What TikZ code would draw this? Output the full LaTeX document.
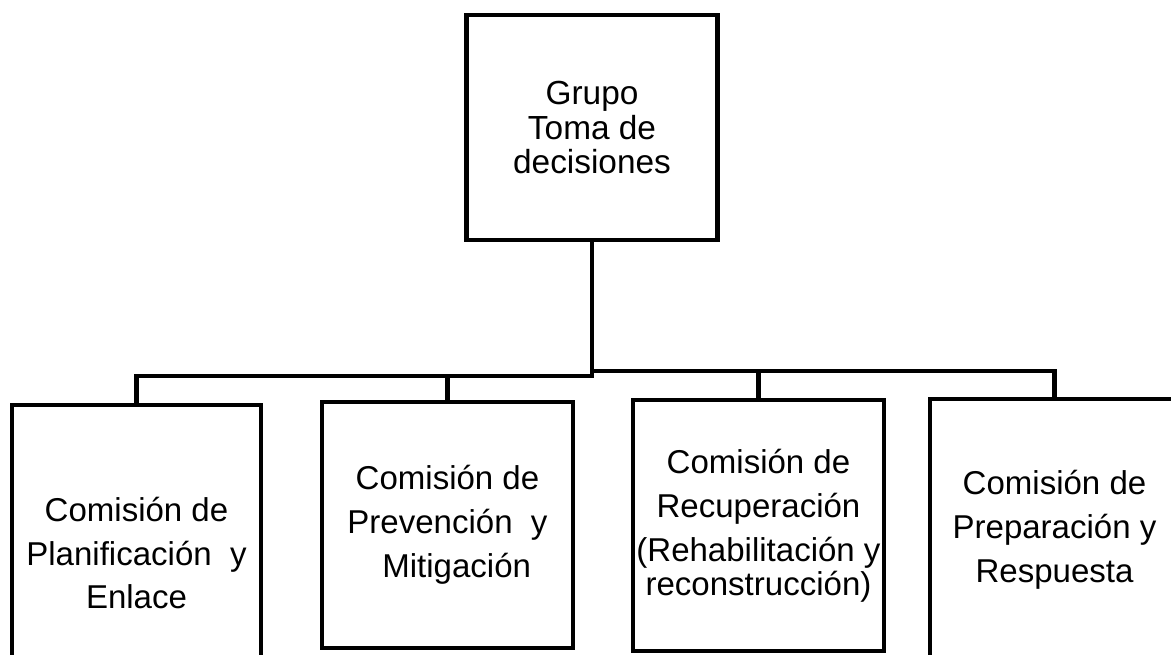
\documentclass[tikz,border=0pt]{standalone}
\usepackage{fontspec}
\setmainfont{Liberation Sans}
\begin{document}
\begin{tikzpicture}[x=0.02cm,y=-0.02cm,
  caja/.style={draw,line width=2.5pt,align=center,inner sep=0pt,
    font=\fontsize{18.8}{25}\selectfont},
  enlace/.style={line width=2.5pt}]
\useasboundingbox (0,0) rectangle (1171,654);
\clip (0,0) rectangle (1171,654);

\node[caja,minimum width=5.02cm,minimum height=4.5cm,
  font=\fontsize{19}{19.5}\selectfont] (grupo) at (592,127.5)
  {Grupo\\Toma de\\decisiones};

\node[caja,minimum width=4.98cm,minimum height=5.92cm] (planif) at (136.5,553)
  {Comisión de\\Planificación~~y\\Enlace};
\node[caja,minimum width=5.02cm,minimum height=4.92cm] (prevenc) at (447.5,525)
  {Comisión de\\Prevención~~y\\~~Mitigación};
\node[caja,minimum width=5.02cm,minimum height=5.02cm] (recup) at (758.5,525.5)
  {Comisión de\\Recuperación\\(Rehabilitación y\\[-5.5pt]reconstrucción)};
\node[caja,minimum width=4.98cm,minimum height=5.22cm] (prepar) at (1054.5,529.5)
  {Comisión de\\Preparación y\\Respuesta};

\coordinate (izq) at (592,376);
\coordinate (der) at (592,371);

\draw[enlace] (grupo.south) -- (izq) -| (planif.north);
\draw[enlace] (der) -| (prepar.north);
\draw[enlace] (prevenc.north) -- (prevenc.north |- izq);
\draw[enlace] (recup.north) -- (recup.north |- der);

\end{tikzpicture}
\end{document}
